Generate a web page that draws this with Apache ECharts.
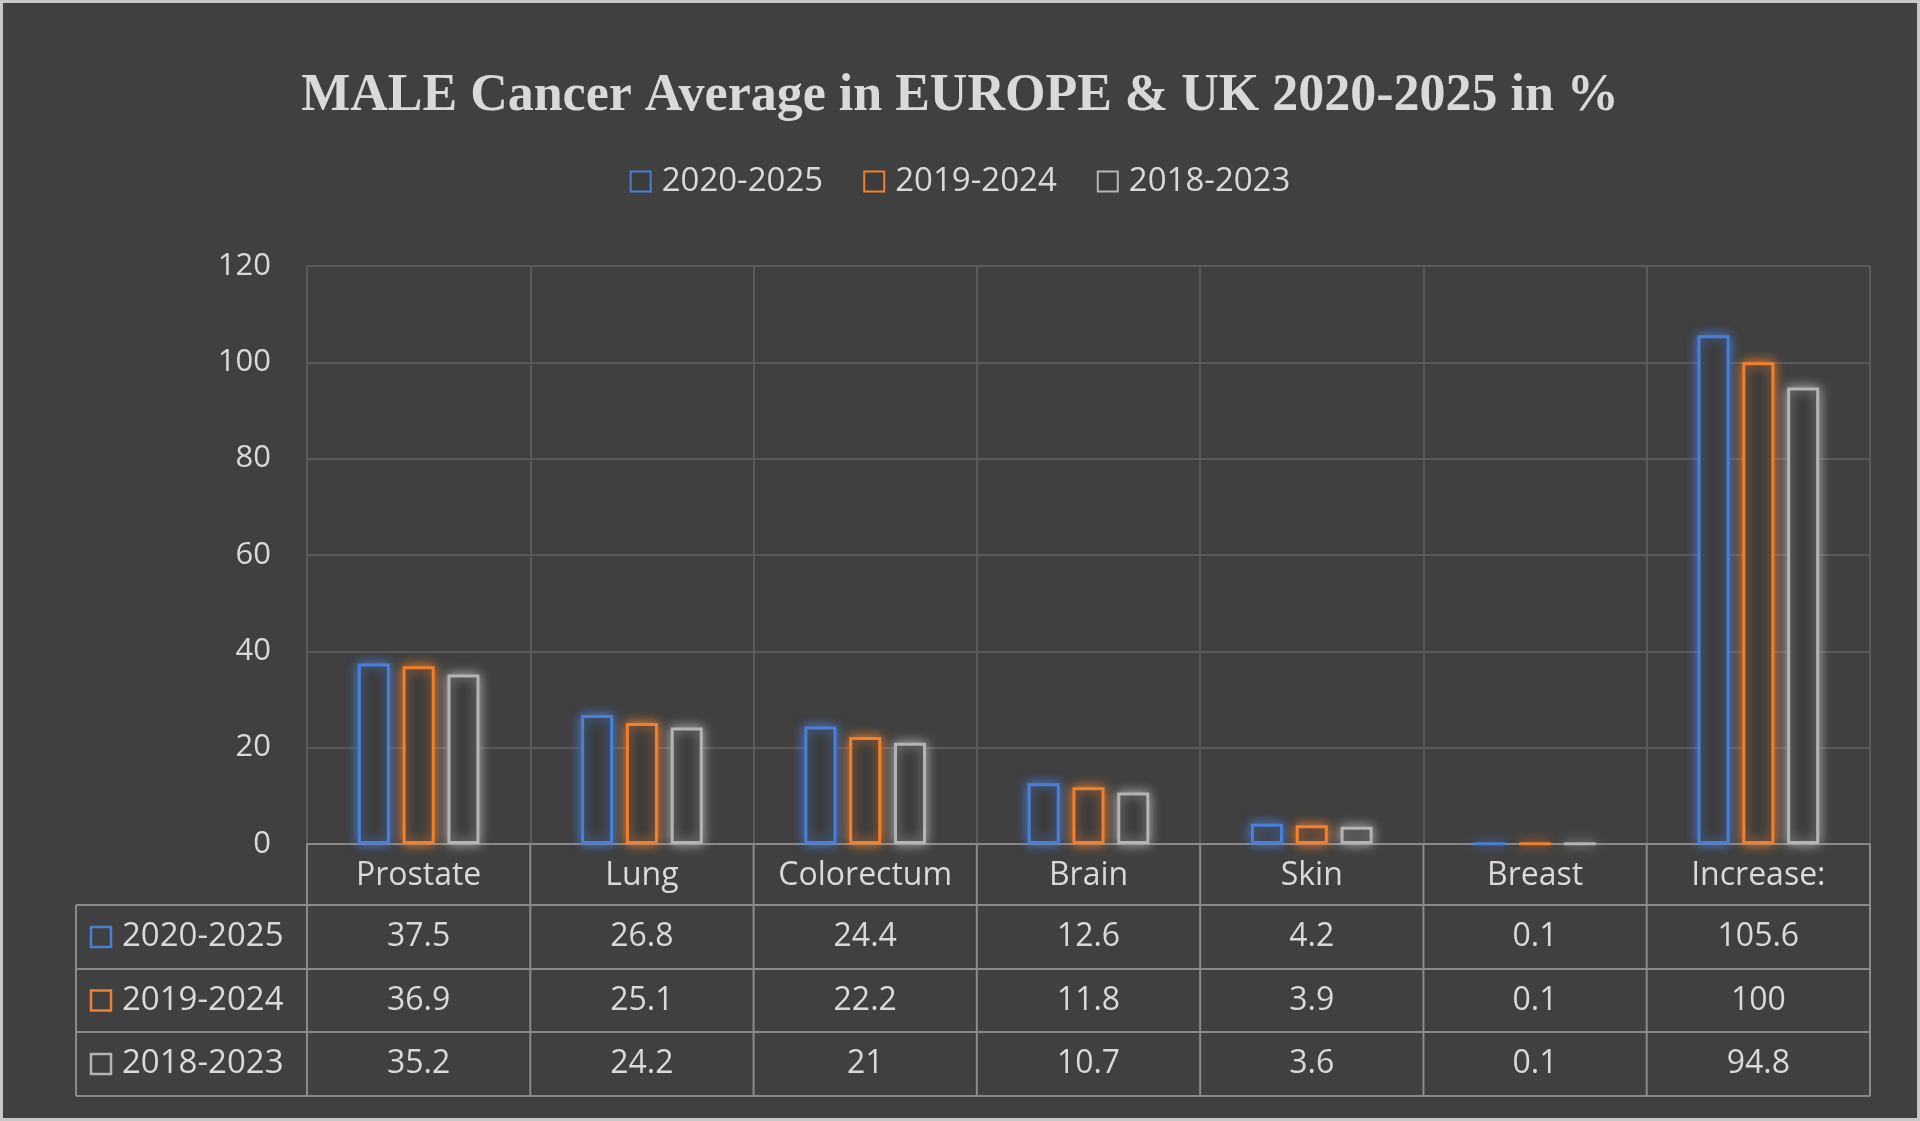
<!DOCTYPE html>
<html>
<head>
<meta charset="UTF-8">
<title>MALE Cancer Average</title>
<script src="https://cdn.jsdelivr.net/npm/echarts@6/dist/echarts.min.js"></script>
<style>
    html, body { margin: 0; padding: 0; background: #404040; }
    #container { width: 1920px; height: 1121px; }
</style>
</head>
<body>
<div id="container"></div>
<script type="text/javascript">
    var categories = ['Prostate', 'Lung', 'Colorectum', 'Brain', 'Skin', 'Breast', 'Increase:'];
    var seriesNames = ['2020-2025', '2019-2024', '2018-2023'];
    var values2020 = [37.5, 26.8, 24.4, 12.6, 4.2, 0.1, 105.6];
    var values2019 = [36.9, 25.1, 22.2, 11.8, 3.9, 0.1, 100];
    var values2018 = [35.2, 24.2, 21, 10.7, 3.6, 0.1, 94.8];
    var colors = ['#4a7fd8', '#f0802f', '#b4b4b4'];
    var allValues = [values2020, values2019, values2018];

    var dom = document.getElementById('container');
    var myChart = echarts.init(dom, null, { renderer: 'canvas' });

    var gridBox = { left: 307, right: 50, top: 266, bottom: 277 };
    var lineColor = '#5a5a5a';
    var tableLine = '#8a8a8a';
    var textColor = '#d9d9d9';

    var series = seriesNames.map(function (name, i) {
        return {
            name: name,
            type: 'bar',
            data: allValues[i],
            barWidth: 32,
            barGap: '40%',
            itemStyle: {
                color: '#3c3c3c',
                borderColor: colors[i],
                borderWidth: 3,
                shadowColor: colors[i],
                shadowBlur: 12
            }
        };
    });

    var option = {
        backgroundColor: '#404040',
        animation: false,
        title: {
            text: 'MALE Cancer Average in EUROPE & UK 2020-2025 in %',
            left: 'center',
            top: 66,
            textStyle: {
                color: '#d9d9d9',
                fontFamily: 'Liberation Sans Narrow',
                fontWeight: 'bold',
                fontSize: 52
            }
        },
        legend: {
            top: 160,
            left: 'center',
            itemWidth: 20,
            itemHeight: 20,
            itemGap: 40,
            icon: 'rect',
            textStyle: { color: textColor, fontSize: 33, fontFamily: 'Open Sans', padding: [0, 0, 0, 6] }
        },
        grid: gridBox,
        xAxis: {
            type: 'category',
            data: categories,
            axisLine: { show: true, lineStyle: { color: tableLine, width: 2 } },
            axisTick: { show: false },
            splitLine: { show: true, interval: 0, lineStyle: { color: lineColor, width: 2 } },
            axisLabel: { interval: 0, color: textColor, fontSize: 32, fontFamily: 'Open Sans', margin: 16 }
        },
        yAxis: {
            type: 'value',
            min: 0,
            max: 120,
            interval: 20,
            axisLine: { show: false },
            axisTick: { show: false },
            splitLine: { lineStyle: { color: lineColor, width: 2 } },
            axisLabel: { color: textColor, fontSize: 31, fontFamily: 'Open Sans', margin: 36 }
        },
        series: series
    };
    myChart.setOption(option);

    // data table under the chart
    var rowTops = [905, 969, 1032, 1096];
    var tableLeft = 76;
    var gLeft = gridBox.left, gRight = 1920 - gridBox.right;
    var axisY = 1121 - gridBox.bottom;
    var step = (gRight - gLeft) / categories.length;
    var els = [{ type: 'rect', shape: { x: 1.5, y: 1.5, width: 1917, height: 1118 },
        style: { fill: 'none', stroke: '#c8c8c8', lineWidth: 3 } }];
    function hline(y, x1, x2) {
        els.push({ type: 'line', shape: { x1: x1, y1: y, x2: x2, y2: y }, style: { stroke: tableLine, lineWidth: 2 } });
    }
    function vline(x, y1, y2) {
        els.push({ type: 'line', shape: { x1: x, y1: y1, x2: x, y2: y2 }, style: { stroke: tableLine, lineWidth: 2 } });
    }
    rowTops.forEach(function (y) { hline(y, tableLeft, gRight); });
    vline(tableLeft, rowTops[0], rowTops[3]);
    for (var k = 0; k <= categories.length; k++) {
        vline(gLeft + k * step, axisY, rowTops[3]);
    }
    seriesNames.forEach(function (name, i) {
        var cy = (rowTops[i] + rowTops[i + 1]) / 2;
        els.push({ type: 'rect', shape: { x: 91, y: cy - 10, width: 20, height: 20 },
            style: { fill: 'none', stroke: colors[i], lineWidth: 2.5 } });
        els.push({ type: 'text', x: 122, y: cy, style: { text: name, fill: textColor, fontSize: 33,
            fontFamily: 'Open Sans', verticalAlign: 'middle', align: 'left' } });
        allValues[i].forEach(function (v, j) {
            var cx = myChart.convertToPixel({ xAxisIndex: 0 }, categories[j]);
            els.push({ type: 'text', x: cx, y: cy, style: { text: String(v), fill: textColor, fontSize: 32,
                fontFamily: 'Open Sans', verticalAlign: 'middle', align: 'center' } });
        });
    });
    myChart.setOption({ graphic: { elements: els } });
    window.addEventListener('resize', myChart.resize);
</script>
</body>
</html>
